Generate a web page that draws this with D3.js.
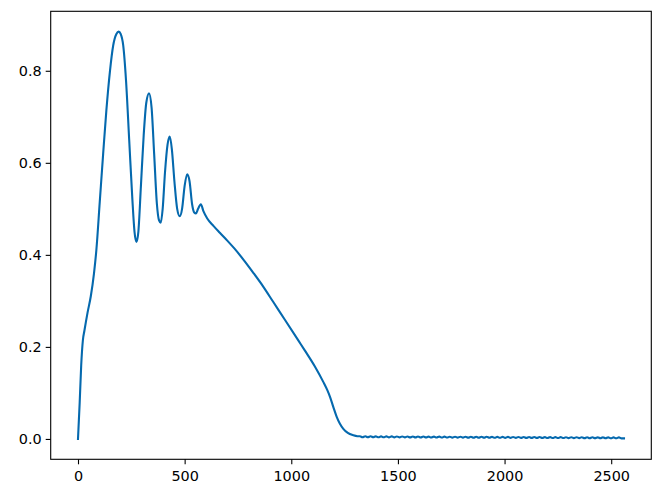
<!DOCTYPE html>
<html>
<head>
<meta charset="utf-8">
<script src="https://cdn.jsdelivr.net/npm/d3@7"></script>
<style>
  html, body { margin: 0; padding: 0; background: #fff; }
  svg { display: block; }
  .tick text { font-family: "DejaVu Sans", sans-serif; font-size: 14.4px; fill: #000; }
</style>
</head>
<body>
<svg id="chart" width="662" height="500"></svg>
<script>
// ---- data ----
const mainX = [0, 8, 15, 23, 30, 45, 60, 75, 86, 102, 118, 133, 150, 165, 180, 191, 200, 212, 225, 240, 255, 265, 274, 283, 295, 308, 320, 333, 345, 357, 370, 380, 388, 397, 408, 420, 430, 440, 452, 465, 477, 488, 500, 512, 523, 535, 545, 553, 563, 576, 588, 606, 635, 665, 700, 733, 780, 822, 870, 915, 970, 1036, 1064, 1110, 1150, 1170, 1182, 1198, 1213, 1228, 1244, 1265, 1291, 1310];
const mainY = [0, 0.08, 0.16, 0.215, 0.235, 0.275, 0.31, 0.36, 0.41, 0.515, 0.62, 0.714, 0.80, 0.855, 0.880, 0.885, 0.880, 0.855, 0.78, 0.65, 0.52, 0.45, 0.428, 0.45, 0.55, 0.66, 0.73, 0.751, 0.72, 0.62, 0.51, 0.475, 0.470, 0.50, 0.58, 0.64, 0.657, 0.63, 0.56, 0.50, 0.484, 0.50, 0.55, 0.575, 0.56, 0.51, 0.492, 0.490, 0.50, 0.510, 0.495, 0.479, 0.463, 0.448, 0.431, 0.414, 0.387, 0.361, 0.330, 0.298, 0.259, 0.212, 0.192, 0.158, 0.124, 0.105, 0.091, 0.068, 0.048, 0.033, 0.022, 0.013, 0.008, 0.006];
const tailX = [1322, 1334, 1347, 1359, 1372, 1384, 1396, 1409, 1421, 1433, 1446, 1458, 1471, 1483, 1495, 1508, 1520, 1533, 1545, 1557, 1570, 1582, 1594, 1607, 1619, 1632, 1644, 1656, 1669, 1681, 1694, 1706, 1718, 1731, 1743, 1755, 1768, 1780, 1793, 1805, 1817, 1830, 1842, 1855, 1867, 1879, 1892, 1904, 1916, 1929, 1941, 1954, 1966, 1978, 1991, 2003, 2016, 2028, 2040, 2053, 2065, 2077, 2090, 2102, 2115, 2127, 2139, 2152, 2164, 2177, 2189, 2201, 2214, 2226, 2238, 2251, 2263, 2276, 2288, 2300, 2313, 2325, 2338, 2350, 2362, 2375, 2387, 2399, 2412, 2424, 2437, 2449, 2461, 2474, 2486, 2499, 2511, 2523, 2536, 2548, 2560];
const tailY = [.0058,.0038,.0057,.0037,.0057,.0037,.0056,.0036,.0056,.0036,
               .0055,.0035,.0055,.0035,.0054,.0034,.0054,.0034,.0053,.0033,
               .0053,.0033,.0052,.0032,.0052,.0032,.0051,.0031,.0051,.0031,
               .0050,.0030,.0050,.0030,.0049,.0029,.0049,.0029,.0048,.0028,
               .0048,.0028,.0047,.0027,.0047,.0027,.0046,.0026,.0046,.0026,
               .0045,.0025,.0045,.0025,.0044,.0024,.0044,.0024,.0043,.0023,
               .0043,.0023,.0042,.0022,.0042,.0022,.0041,.0021,.0041,.0021,
               .0040,.0020,.0040,.0020,.0039,.0019,.0039,.0019,.0038,.0018,
               .0038,.0018,.0037,.0017,.0037,.0017,.0036,.0016,.0036,.0016,
               .0035,.0015,.0035,.0015,.0034,.0014,.0034,.0014,.0033,.0013,.0012];
const xTicks = [0, 500, 1000, 1500, 2000, 2500];
const yTicks = [0.0, 0.2, 0.4, 0.6, 0.8];

// ---- layout ----
const svg = d3.select("#chart");
const mLeft = 50.7, mRight = 651.3, mTop = 11.3, mBottom = 459.3;

const xs = mainX.concat(tailX);
const ys = mainY.concat(tailY);
const data = xs.map((v, i) => ({x: v, y: ys[i]}));

const xMin = d3.min(xs), xMax = d3.max(xs);
const yMin = d3.min(ys), yMax = d3.max(ys);
const xPad = (xMax - xMin) * 0.05, yPad = (yMax - yMin) * 0.05;

const xScale = d3.scaleLinear().domain([xMin - xPad, xMax + xPad]).range([mLeft, mRight]);
const yScale = d3.scaleLinear().domain([yMin - yPad, yMax + yPad]).range([mBottom, mTop]);

const line = d3.line().x(d => xScale(d.x)).y(d => yScale(d.y)).curve(d3.curveMonotoneX);

svg.append("path")
  .datum(data)
  .attr("d", line)
  .attr("fill", "none")
  .attr("stroke", "#0569ae")
  .attr("stroke-width", 2.1)
  .attr("stroke-linejoin", "round")
  .attr("stroke-linecap", "square");

// axes
const xAxis = d3.axisBottom(xScale).tickValues(xTicks).tickFormat(d3.format("d"))
  .tickSize(5).tickPadding(4);
const yAxis = d3.axisLeft(yScale).tickValues(yTicks).tickFormat(d3.format(".1f"))
  .tickSize(5).tickPadding(4);

const gx = svg.append("g").attr("transform", `translate(0,${mBottom})`).call(xAxis);
const gy = svg.append("g").attr("transform", `translate(${mLeft},0)`).call(yAxis);
[gx, gy].forEach(g => {
  g.select(".domain").remove();
  g.selectAll(".tick line").attr("stroke", "#000").attr("stroke-width", 1.1);
});
gx.selectAll(".tick text").attr("dy", "0.85em");

// frame (spines)
svg.append("rect")
  .attr("x", mLeft).attr("y", mTop)
  .attr("width", mRight - mLeft).attr("height", mBottom - mTop)
  .attr("fill", "none").attr("stroke", "#000").attr("stroke-width", 1.1);
</script>
</body>
</html>
